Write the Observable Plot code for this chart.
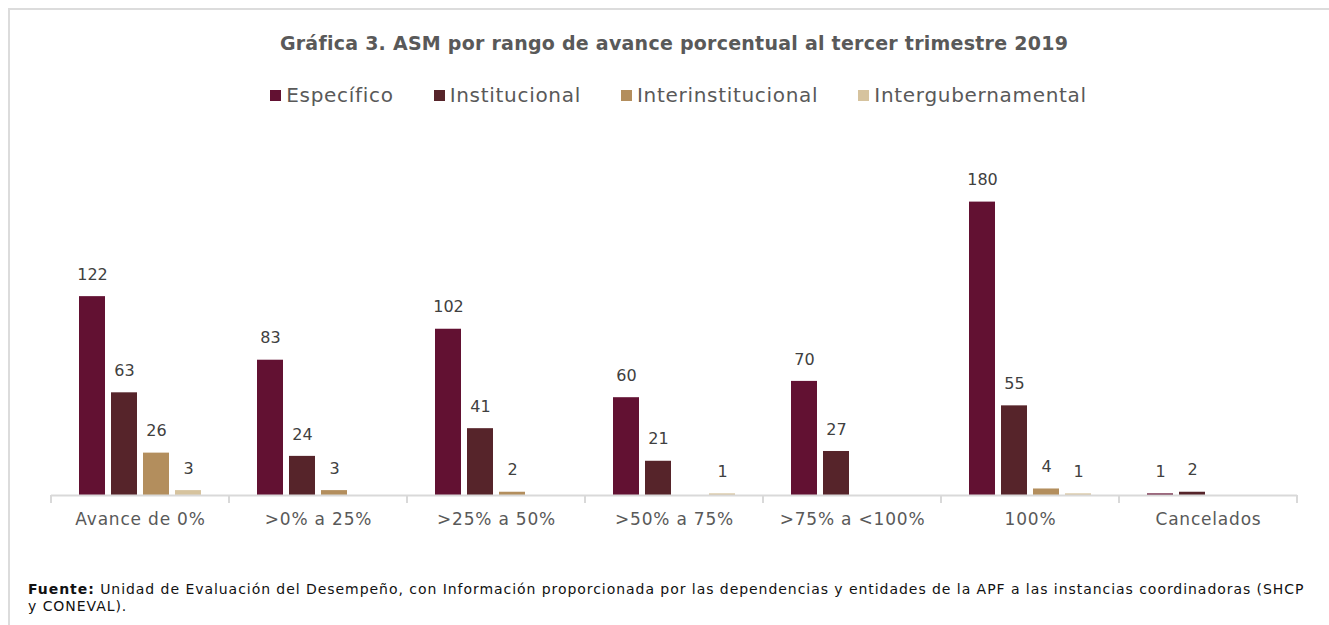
<!DOCTYPE html>
<html>
<head>
<meta charset="utf-8">
<script src="https://cdn.jsdelivr.net/npm/d3@7"></script>
<script src="https://cdn.jsdelivr.net/npm/@observablehq/plot@0.6"></script>
<style>
  body { margin: 0; background: #fff; }
  #wrap { position: relative; width: 1329px; height: 625px; overflow: hidden; font-family: "DejaVu Sans", sans-serif; }
  #border { position: absolute; left: 8px; top: 8px; width: 1400px; height: 700px; border-top: 2px solid #dcdcdc; border-left: 2px solid #dcdcdc; }
  #title { position: absolute; top: 32px; left: 0; width: 1348px; text-align: center; font-weight: bold; font-size: 19px; letter-spacing: 0.25px; color: #595959; }
  #legend { position: absolute; top: 83px; left: 0; width: 1357px; display: flex; justify-content: center; gap: 40px; font-size: 20px; letter-spacing: 0.7px; color: #595959; }
  #legend span.item { display: inline-flex; align-items: center; }
  #legend span.sw { display: inline-block; width: 11px; height: 11px; margin-right: 5px; }
  #chart { position: absolute; top: 130px; left: 0; }
  #foot { position: absolute; left: 28px; top: 581px; font-family: "DejaVu Sans", sans-serif; font-size: 14px; letter-spacing: 0.95px; color: #111; line-height: 17px; white-space: nowrap; }
</style>
</head>
<body>
<div id="wrap">
  <div id="border"></div>
  <div id="title"></div>
  <div id="legend"></div>
  <div id="chart"></div>
  <div id="foot"></div>
</div>
<script>
const titleText = "Gráfica 3. ASM por rango de avance porcentual al tercer trimestre 2019";
const categories = ["Avance de 0%", ">0% a 25%", ">25% a 50%", ">50% a 75%", ">75% a <100%", "100%", "Cancelados"];
const series = ["Específico", "Institucional", "Interinstitucional", "Intergubernamental"];
const colors = ["#621132", "#56242a", "#b38e5d", "#d6c39e"];
const especifico = [122, 83, 102, 60, 70, 180, 1];
const institucional = [63, 24, 41, 21, 27, 55, 2];
const interinstitucional = [26, 3, 2, null, null, 4, null];
const intergubernamental = [3, null, null, 1, null, 1, null];
const footBold = "Fuente:";
const footLine1 = " Unidad de Evaluación del Desempeño, con Información proporcionada por las dependencias y entidades de la APF a las instancias coordinadoras (SHCP";
const footLine2 = "y CONEVAL).";

const seriesValues = [especifico, institucional, interinstitucional, intergubernamental];
const data = [];
categories.forEach((c, i) => {
  series.forEach((s, j) => {
    const v = seriesValues[j][i];
    if (v != null) data.push({category: c, series: s, value: v});
  });
});

document.getElementById("title").textContent = titleText;
const leg = document.getElementById("legend");
series.forEach((s, j) => {
  const it = document.createElement("span");
  it.className = "item";
  const sw = document.createElement("span");
  sw.className = "sw";
  sw.style.background = colors[j];
  it.appendChild(sw);
  it.appendChild(document.createTextNode(s));
  leg.appendChild(it);
});
const foot = document.getElementById("foot");
const b = document.createElement("b");
b.textContent = footBold;
foot.appendChild(b);
foot.appendChild(document.createTextNode(footLine1));
foot.appendChild(document.createElement("br"));
foot.appendChild(document.createTextNode(footLine2));

const plot = Plot.plot({
  width: 1329,
  height: 410,
  marginLeft: 50,
  marginRight: 31,
  marginTop: 39,
  marginBottom: 45,
  style: {fontFamily: "DejaVu Sans, sans-serif", fontSize: "16px", color: "#595959", background: "transparent"},
  fx: {domain: categories, padding: 0, label: null},
  x: {domain: series, paddingInner: 0.2, paddingOuter: 0.843, axis: null},
  y: {domain: [0, 200], axis: null},
  color: {domain: series, range: colors},
  marks: [
    Plot.barY(data, {fx: "category", x: "series", y: "value", fill: "series"}),
    Plot.ruleY([0], {stroke: "#d9d9d9", strokeWidth: 2}),
    Plot.text(data, {fx: "category", x: "series", y: "value", text: d => String(d.value), dy: -22, fill: "#404040", fontSize: 16}),
    Plot.axisFx({anchor: "bottom", tickSize: 0, tickPadding: 17, fontSize: 17, fill: "#595959", label: null})
  ]
});
document.getElementById("chart").appendChild(plot);
d3.select(plot).selectAll('g[aria-label="fx-axis tick label"]').style("letter-spacing", "0.8px");

// group boundary ticks from the fx scale
const fx = plot.scale("fx");
const ys = plot.scale("y");
const y0 = ys.apply(0);
const bounds = categories.map(c => fx.apply(c));
bounds.push(fx.apply(categories[categories.length - 1]) + fx.bandwidth);
d3.select(plot).append("g")
  .selectAll("line").data(bounds).join("line")
  .attr("x1", d => d).attr("x2", d => d)
  .attr("y1", y0).attr("y2", y0 + 8)
  .attr("stroke", "#d9d9d9").attr("stroke-width", 2);
</script>
</body>
</html>
